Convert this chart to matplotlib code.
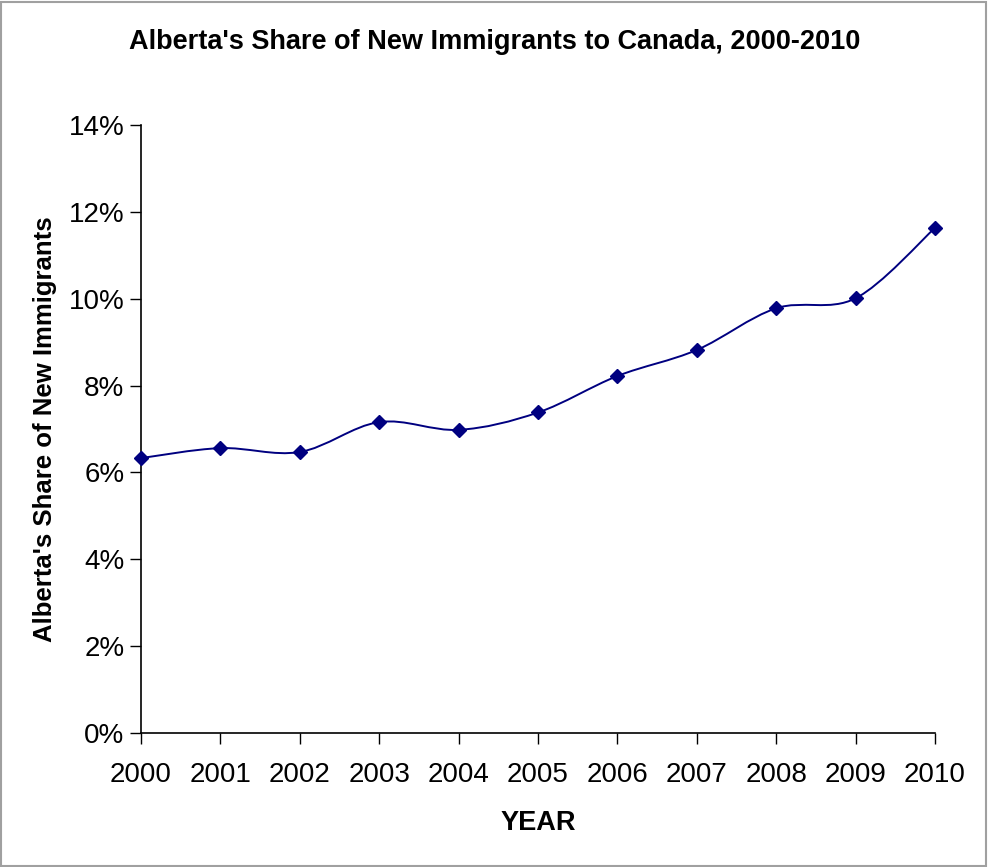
import numpy as np
import matplotlib.pyplot as plt
from matplotlib.path import Path
from matplotlib.patches import PathPatch, Rectangle

years = [2000, 2001, 2002, 2003, 2004, 2005, 2006, 2007, 2008, 2009, 2010]
share = [6.33, 6.56, 6.47, 7.16, 6.98, 7.38, 8.22, 8.82, 9.78, 10.01, 11.63]
y_ticks = [0, 2, 4, 6, 8, 10, 12, 14]

LINE_COLOR = "#000080"
FONT = "Liberation Sans"


def smooth_path(xs, ys):
    # Excel-style smoothed line: cubic bezier through each point
    pts = np.column_stack([xs, ys]).astype(float)
    n = len(pts)
    verts = [pts[0]]
    codes = [Path.MOVETO]
    for i in range(n - 1):
        p0 = pts[i - 1] if i > 0 else pts[i]
        p1 = pts[i]
        p2 = pts[i + 1]
        p3 = pts[i + 2] if i + 2 < n else pts[i + 1]
        c1 = p1 + (p2 - p0) / 6.0
        c2 = p2 - (p3 - p1) / 6.0
        verts += [c1, c2, p2]
        codes += [Path.CURVE4] * 3
    return Path(verts, codes)


fig = plt.figure(figsize=(9.88, 8.67), dpi=100)
ax = fig.add_axes([141 / 988, 1 - 733 / 867, (935 - 141) / 988, (733 - 125) / 867])

ax.add_patch(PathPatch(smooth_path(years, share), facecolor="none",
                       edgecolor=LINE_COLOR, lw=1.4, zorder=2))
ax.plot(years, share, linestyle="none", marker="D", markersize=7.5,
        color=LINE_COLOR, zorder=3, clip_on=False)

ax.set_xlim(2000, 2010)
ax.set_ylim(0, 14)
ax.set_xticks(years)
ax.set_xticklabels([str(y) for y in years], fontsize=20, family=FONT)
ax.set_yticks(y_ticks)
ax.set_yticklabels([f"{t}%" for t in y_ticks], fontsize=20, family=FONT)
ax.tick_params(axis="both", direction="out", length=8, width=1, color="black")
ax.tick_params(axis="x", pad=13)
ax.tick_params(axis="y", pad=4)

for side in ["top", "right"]:
    ax.spines[side].set_visible(False)
for side in ["left", "bottom"]:
    ax.spines[side].set_linewidth(1.2)

ax.set_xlabel("YEAR", fontsize=19.5, fontweight="bold", family=FONT, labelpad=16)
ax.set_ylabel("Alberta's Share of New Immigrants", fontsize=18.5,
              fontweight="bold", family=FONT, labelpad=8)

fig.text(495 / 988, 1 - 42 / 867, "Alberta's Share of New Immigrants to Canada, 2000-2010",
         ha="center", va="center", fontsize=19.5, fontweight="bold", family=FONT)

fig.patches.append(Rectangle((0.001, 0.001), 0.997, 0.997, transform=fig.transFigure,
                             fill=False, edgecolor="#a0a0a0", lw=1.5))

fig.savefig("out.png", dpi=100, facecolor="white")
